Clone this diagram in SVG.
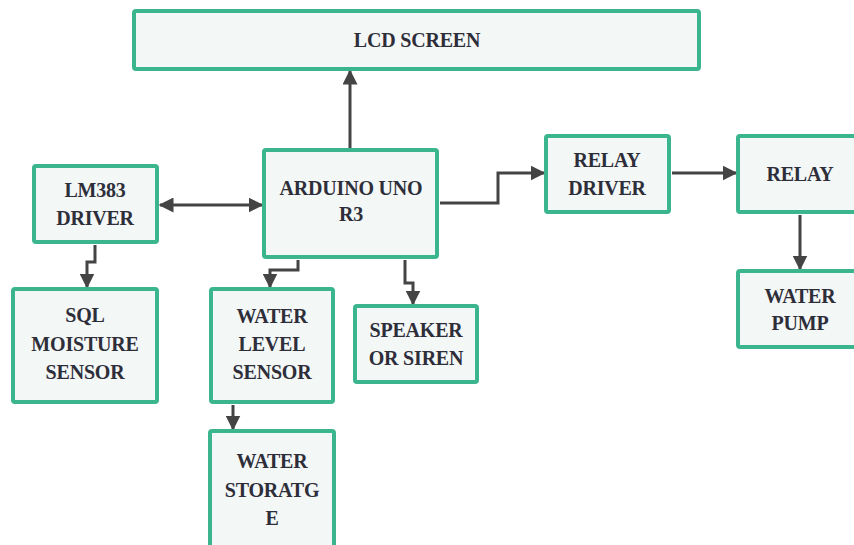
<svg xmlns="http://www.w3.org/2000/svg" width="854" height="545" viewBox="0 0 854 545">
<style>
.box{fill:#f3f7f6;stroke:#3ab58d;stroke-width:4}
.t{font-family:'Liberation Serif','Times New Roman',serif;font-weight:bold;font-size:20px;fill:#2e2e3a;text-anchor:middle;letter-spacing:-0.2px}
.c{fill:none;stroke:#444;stroke-width:3}
</style>
<defs>
<marker id="ah" viewBox="0 0 10 10" refX="9" refY="5" markerWidth="5" markerHeight="5" orient="auto-start-reverse" markerUnits="strokeWidth">
<path d="M0,0 L10,5 L0,10 z" fill="#444"/>
</marker>
</defs>
<rect width="854" height="545" fill="#fff"/>
<g id="connectors">
<path class="c" d="M350,149 V71" marker-end="url(#ah)"/>
<path class="c" d="M160,205 H262" marker-start="url(#ah)" marker-end="url(#ah)"/>
<path class="c" d="M95,245 V262 H87 V287" marker-end="url(#ah)"/>
<path class="c" d="M298,260 V270 H270 V287" marker-end="url(#ah)"/>
<path class="c" d="M405,260 V283 H413 V304" marker-end="url(#ah)"/>
<path class="c" d="M233,405 V429" marker-end="url(#ah)"/>
<path class="c" d="M440,203 H498 V173 H544" marker-end="url(#ah)"/>
<path class="c" d="M672,173 H736" marker-end="url(#ah)"/>
<path class="c" d="M800,215 V269" marker-end="url(#ah)"/>
</g>
<g id="lcd"><rect class="box" x="134" y="11" width="565" height="58" rx="2"/><text class="t" x="417" y="47">LCD SCREEN</text></g>
<g id="arduino"><rect class="box" x="264" y="150" width="173" height="107" rx="2"/><text class="t" x="351" y="195">ARDUINO UNO</text><text class="t" x="351" y="221">R3</text></g>
<g id="lm383"><rect class="box" x="34" y="166" width="123" height="76" rx="2"/><text class="t" x="95" y="197">LM383</text><text class="t" x="95" y="225">DRIVER</text></g>
<g id="sql"><rect class="box" x="13" y="289" width="144" height="113" rx="2"/><text class="t" x="85" y="322">SQL</text><text class="t" x="85" y="351">MOISTURE</text><text class="t" x="85" y="379">SENSOR</text></g>
<g id="wls"><rect class="box" x="211" y="289" width="122" height="113" rx="2"/><text class="t" x="272" y="323">WATER</text><text class="t" x="272" y="351">LEVEL</text><text class="t" x="272" y="379">SENSOR</text></g>
<g id="storage"><rect class="box" x="210" y="431" width="124" height="118" rx="2"/><text class="t" x="272" y="468">WATER</text><text class="t" x="272" y="497">STORATG</text><text class="t" x="272" y="525">E</text></g>
<g id="speaker"><rect class="box" x="355" y="306" width="122" height="76" rx="2"/><text class="t" x="416" y="337">SPEAKER</text><text class="t" x="416" y="365">OR SIREN</text></g>
<g id="relaydriver"><rect class="box" x="546" y="136" width="123" height="76" rx="2"/><text class="t" x="607" y="167">RELAY</text><text class="t" x="607" y="195">DRIVER</text></g>
<g id="relay"><rect class="box" x="738" y="136" width="124" height="76" rx="2"/><text class="t" x="800" y="181">RELAY</text></g>
<g id="pump"><rect class="box" x="738" y="271" width="124" height="76" rx="2"/><text class="t" x="800" y="303">WATER</text><text class="t" x="800" y="330">PUMP</text></g>
</svg>
